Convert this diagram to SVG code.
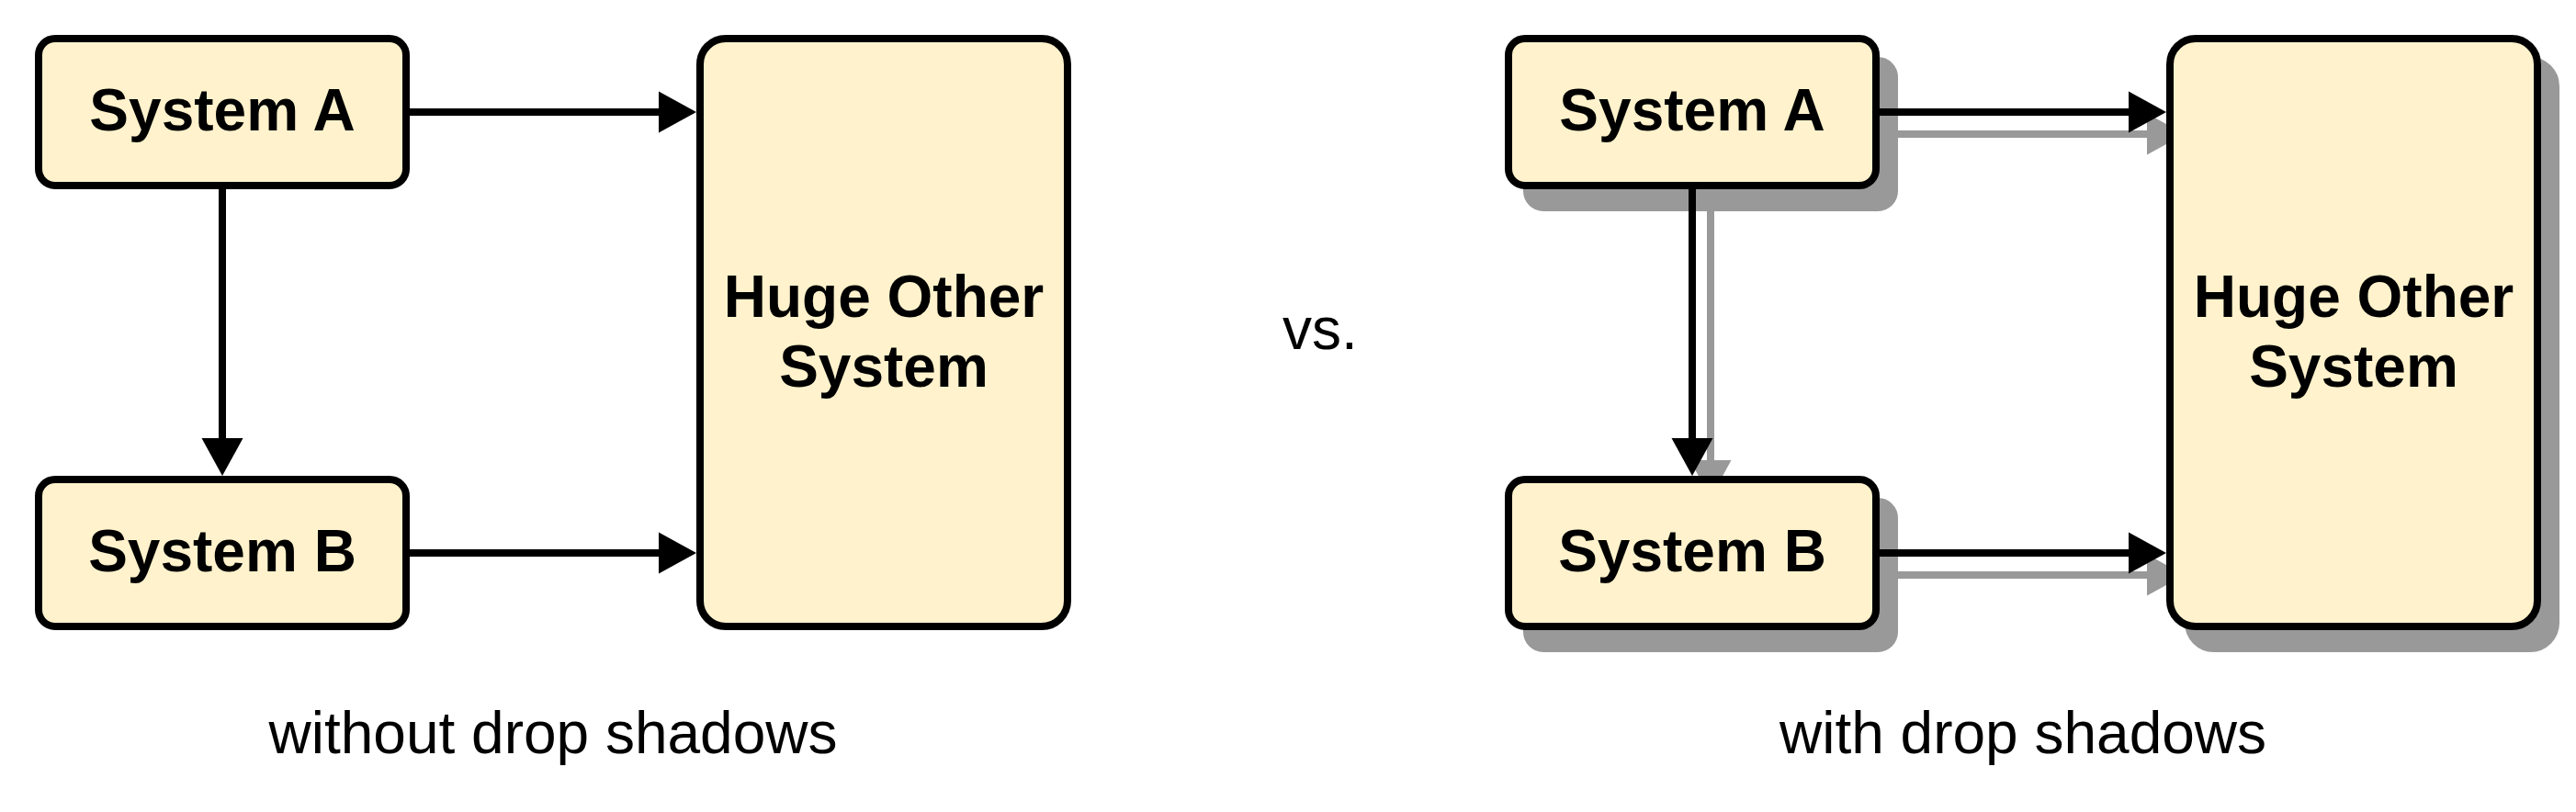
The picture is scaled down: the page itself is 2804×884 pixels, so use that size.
<svg xmlns="http://www.w3.org/2000/svg" width="2804" height="884" viewBox="0 0 2804 884">
<style>
.box{fill:#FFF2CC;stroke:#000;stroke-width:8}
.shadow{fill:#999;stroke:#999;stroke-width:8}
.edge{fill:none;stroke:#000;stroke-width:8}
.edge-sh{fill:none;stroke:#999;stroke-width:8}
.lbl{font-family:"Liberation Sans",Arial,Helvetica,sans-serif;font-weight:bold;font-size:64px;fill:#000;text-anchor:middle}
.cap{font-family:"Liberation Sans",Arial,Helvetica,sans-serif;font-size:64px;fill:#000;text-anchor:middle}
</style>
<defs>
<marker id="ah" markerUnits="userSpaceOnUse" markerWidth="42" markerHeight="46" refX="0" refY="22.5" orient="auto" overflow="visible">
<path d="M0,0 L41,22.5 L0,45 Z" fill="#000"/>
</marker>
<marker id="ah-sh" markerUnits="userSpaceOnUse" markerWidth="42" markerHeight="46" refX="0" refY="22.5" orient="auto" overflow="visible">
<path d="M0,0 L41,22.5 L0,45 Z" fill="#999"/>
</marker>
</defs>
<rect width="2804" height="884" fill="#fff"/>

<g id="shadows" transform="translate(20,24)">
<rect class="shadow" x="1642" y="42" width="400" height="160" rx="18"/>
<rect class="shadow" x="1642" y="522" width="400" height="160" rx="18"/>
<rect class="shadow" x="2362" y="42" width="400" height="640" rx="28"/>
<path class="edge-sh" d="M2046,122 H2317" marker-end="url(#ah-sh)"/>
<path class="edge-sh" d="M2046,602 H2317" marker-end="url(#ah-sh)"/>
<path class="edge-sh" d="M1842,206 V477" marker-end="url(#ah-sh)"/>
</g>

<g id="connectors">
<path class="edge" d="M446,122 H717" marker-end="url(#ah)"/>
<path class="edge" d="M446,602 H717" marker-end="url(#ah)"/>
<path class="edge" d="M242,206 V477" marker-end="url(#ah)"/>
<path class="edge" d="M2046,122 H2317" marker-end="url(#ah)"/>
<path class="edge" d="M2046,602 H2317" marker-end="url(#ah)"/>
<path class="edge" d="M1842,206 V477" marker-end="url(#ah)"/>
</g>

<g id="left-system-a">
<rect class="box" x="42" y="42" width="400" height="160" rx="18"/>
<text class="lbl" x="242" y="142">System A</text>
</g>
<g id="left-system-b">
<rect class="box" x="42" y="522" width="400" height="160" rx="18"/>
<text class="lbl" x="242" y="622">System B</text>
</g>
<g id="left-huge">
<rect class="box" x="762" y="42" width="400" height="640" rx="28"/>
<text class="lbl" x="962" y="345">Huge Other</text>
<text class="lbl" x="962" y="421">System</text>
</g>

<g id="right-system-a">
<rect class="box" x="1642" y="42" width="400" height="160" rx="18"/>
<text class="lbl" x="1842" y="142">System A</text>
</g>
<g id="right-system-b">
<rect class="box" x="1642" y="522" width="400" height="160" rx="18"/>
<text class="lbl" x="1842" y="622">System B</text>
</g>
<g id="right-huge">
<rect class="box" x="2362" y="42" width="400" height="640" rx="28"/>
<text class="lbl" x="2562" y="345">Huge Other</text>
<text class="lbl" x="2562" y="421">System</text>
</g>

<g id="captions">
<text class="cap" x="1437" y="380">vs.</text>
<text class="cap" x="602" y="820">without drop shadows</text>
<text class="cap" x="2202" y="820">with drop shadows</text>
</g>
</svg>
